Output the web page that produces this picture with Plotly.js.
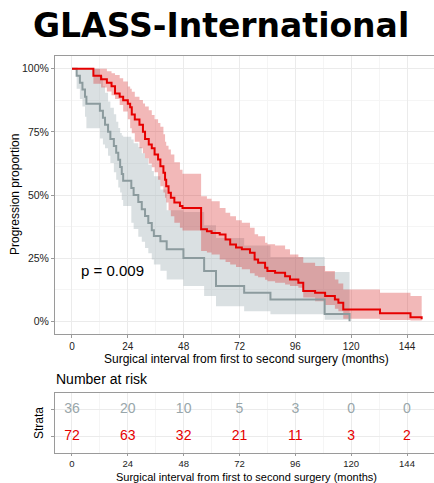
<!DOCTYPE html>
<html>
<head>
<meta charset="utf-8">
<script src="https://cdn.plot.ly/plotly-3.0.1.min.js"></script>
<style>html,body{margin:0;padding:0;background:#fff;}#chart{width:434px;height:483px;}</style>
</head>
<body>
<div id="chart"></div>
<script>
// ---- data ----
const redT  = [0, 9.2, 12.5, 15, 17, 18.5, 20.5, 22, 24, 25, 25.7, 27, 29, 30.5, 31.4, 33, 34.3, 35.5, 37, 38, 39.3, 40, 40.5, 41.5, 42.5, 44, 46.4, 47.5, 55.5, 58, 60, 63.5, 66, 68, 70.5, 73, 76.5, 78.5, 80, 83, 84, 87.3, 91.6, 93.7, 97.3, 99.4, 104.5, 108.8, 113, 114.5, 116.6, 132.4, 145.5, 150.3];
const redS  = [1, 0.972, 0.958, 0.944, 0.93, 0.902, 0.889, 0.875, 0.861, 0.847, 0.819, 0.799, 0.778, 0.75, 0.722, 0.7, 0.685, 0.66, 0.64, 0.614, 0.588, 0.56, 0.535, 0.509, 0.489, 0.47, 0.456, 0.449, 0.364, 0.357, 0.35, 0.344, 0.324, 0.304, 0.292, 0.285, 0.271, 0.245, 0.232, 0.212, 0.199, 0.192, 0.179, 0.166, 0.153, 0.12, 0.113, 0.1, 0.087, 0.074, 0.047, 0.032, 0.016, 0.008];
const redUp = [1, 1, 1, 0.99, 0.982, 0.975, 0.962, 0.949, 0.929, 0.92, 0.909, 0.889, 0.876, 0.862, 0.85, 0.835, 0.817, 0.8, 0.785, 0.77, 0.74, 0.711, 0.695, 0.68, 0.66, 0.63, 0.6, 0.584, 0.495, 0.485, 0.475, 0.449, 0.43, 0.416, 0.4, 0.39, 0.37, 0.345, 0.337, 0.311, 0.305, 0.3, 0.285, 0.265, 0.255, 0.232, 0.219, 0.199, 0.166, 0.15, 0.126, 0.113, 0.1, 0.1];
const redLo = [1, 0.94, 0.925, 0.91, 0.895, 0.88, 0.856, 0.83, 0.8, 0.764, 0.744, 0.711, 0.685, 0.665, 0.645, 0.625, 0.61, 0.59, 0.56, 0.535, 0.51, 0.489, 0.47, 0.44, 0.416, 0.39, 0.37, 0.36, 0.278, 0.272, 0.265, 0.245, 0.235, 0.225, 0.215, 0.206, 0.19, 0.18, 0.175, 0.165, 0.159, 0.153, 0.146, 0.14, 0.133, 0.094, 0.08, 0.065, 0.05, 0.04, 0.01, 0.005, 0.003, 0.003];

const greyT  = [0, 2, 3.4, 4.5, 5.6, 6.2, 12, 13.3, 14.2, 15.5, 16.5, 18, 19, 19.9, 20.7, 21.4, 22, 25.5, 26.5, 28.5, 30, 31.4, 32.8, 34.3, 35.2, 38, 40.7, 47.9, 56.8, 61.9, 74, 85.3, 108.6, 119.3];
const greyS  = [1, 0.972, 0.944, 0.917, 0.889, 0.861, 0.833, 0.806, 0.778, 0.75, 0.722, 0.694, 0.667, 0.639, 0.611, 0.583, 0.556, 0.528, 0.5, 0.472, 0.444, 0.417, 0.389, 0.361, 0.338, 0.317, 0.285, 0.251, 0.199, 0.14, 0.113, 0.087, 0.029, 0];
const greyUp = [1, 1, 1, 1, 1, 1, 0.97, 0.93, 0.905, 0.87, 0.845, 0.82, 0.79, 0.765, 0.745, 0.735, 0.73, 0.72, 0.705, 0.69, 0.665, 0.645, 0.62, 0.595, 0.574, 0.522, 0.44, 0.433, 0.38, 0.33, 0.3, 0.255, 0.195, 0.195];
const greyLo = [1, 0.92, 0.88, 0.85, 0.81, 0.764, 0.724, 0.7, 0.685, 0.655, 0.627, 0.59, 0.56, 0.53, 0.51, 0.48, 0.456, 0.39, 0.365, 0.335, 0.315, 0.29, 0.27, 0.245, 0.225, 0.2, 0.166, 0.14, 0.1, 0.06, 0.04, 0.028, 0.006, 0.006];

const riskTimes = [0, 24, 48, 72, 96, 120, 144];
const riskGrey  = [36, 20, 10, 5, 3, 0, 0];
const riskRed   = [72, 63, 32, 21, 11, 3, 2];
const yTickVals = [0, 0.25, 0.5, 0.75, 1];
const yTickText = ['0%', '25%', '50%', '75%', '100%'];
const pText = 'p = 0.009';

// ---- styles ----
const RED = '#E60000', GREY = '#8C9B9E';
const GREY_TXT = '#98A6AA';
const SANS = 'Liberation Sans, Arial, sans-serif';
const W = 434, H = 483;
const px = v => v / W, py = v => 1 - v / H;

const traces = [
  {x: greyT, y: greyUp, mode: 'lines', line: {width: 0, shape: 'hv'}, hoverinfo: 'skip', showlegend: false},
  {x: greyT, y: greyLo, mode: 'lines', line: {width: 0, shape: 'hv'}, fill: 'tonexty', fillcolor: 'rgba(150,165,172,0.35)', hoverinfo: 'skip', showlegend: false},
  {x: redT, y: redUp, mode: 'lines', line: {width: 0, shape: 'hv'}, hoverinfo: 'skip', showlegend: false},
  {x: redT, y: redLo, mode: 'lines', line: {width: 0, shape: 'hv'}, fill: 'tonexty', fillcolor: 'rgba(215,40,40,0.33)', hoverinfo: 'skip', showlegend: false},
  {x: greyT, y: greyS, mode: 'lines', line: {color: GREY, width: 2, shape: 'hv'}, showlegend: false},
  {x: redT, y: redS, mode: 'lines', line: {color: RED, width: 2, shape: 'hv'}, showlegend: false},
  {x: riskTimes, y: riskTimes.map(() => 2), text: riskGrey.map(String), mode: 'text', textfont: {family: SANS, size: 14, color: GREY_TXT}, xaxis: 'x2', yaxis: 'y2', showlegend: false},
  {x: riskTimes, y: riskTimes.map(() => 1), text: riskRed.map(String), mode: 'text', textfont: {family: SANS, size: 14, color: RED}, xaxis: 'x2', yaxis: 'y2', showlegend: false}
];

const axisCommon = {
  showline: true, linecolor: '#9a9a9a', linewidth: 1, mirror: true,
  ticks: 'outside', ticklen: 3, tickcolor: '#9a9a9a',
  gridcolor: '#EBEBEB', gridwidth: 1, zeroline: false,
  tickfont: {family: SANS, size: 10, color: '#222'}
};
const xRange = [-7.3, 155.6];

const layout = {
  width: W, height: H,
  margin: {l: 0, r: 0, t: 0, b: 0},
  paper_bgcolor: '#fff', plot_bgcolor: '#fff',
  showlegend: false,
  xaxis: Object.assign({}, axisCommon, {
    domain: [px(55), 1], range: xRange, tickvals: riskTimes,
    minor: {dtick: 12, tick0: 0, showgrid: true, gridcolor: '#F5F5F5', ticks: ''},
    anchor: 'y'
  }),
  yaxis: Object.assign({}, axisCommon, {
    domain: [py(334), py(56)], range: [-0.05, 1.05],
    tickvals: yTickVals, ticktext: yTickText,
    tickfont: {family: SANS, size: 10.5, color: '#222'},
    minor: {dtick: 0.125, tick0: 0, showgrid: true, gridcolor: '#F5F5F5', ticks: ''},
    anchor: 'x'
  }),
  xaxis2: Object.assign({}, axisCommon, {
    domain: [px(55), 1], range: xRange, tickvals: riskTimes,
    tickfont: {family: SANS, size: 9.5, color: '#222'}, ticklen: 2,
    minor: {dtick: 12, tick0: 0, showgrid: true, gridcolor: '#F5F5F5', ticks: ''},
    anchor: 'y2'
  }),
  yaxis2: Object.assign({}, axisCommon, {
    domain: [py(453), py(393)], range: [0.4, 2.6],
    tickvals: [1, 2], showticklabels: false,
    anchor: 'x2'
  }),
  annotations: [
    {text: 'GLASS-International', xref: 'paper', yref: 'paper', x: px(221), y: py(26), xanchor: 'center', yanchor: 'middle', showarrow: false,
     font: {family: 'DejaVu Sans', size: 33, weight: 700, color: '#000'}},
    {text: 'Progression proportion', xref: 'paper', yref: 'paper', x: px(15), y: py(195), textangle: -90, xanchor: 'center', yanchor: 'middle', showarrow: false,
     font: {family: SANS, size: 12, color: '#000'}},
    {text: 'Surgical interval from first to second surgery (months)', xref: 'paper', yref: 'paper', x: px(246), y: py(359), xanchor: 'center', yanchor: 'middle', showarrow: false,
     font: {family: SANS, size: 12, color: '#000'}},
    {text: pText, xref: 'x', yref: 'y', x: 3, y: 0.2, xanchor: 'left', yanchor: 'middle', showarrow: false,
     font: {family: SANS, size: 15, color: '#000'}},
    {text: 'Number at risk', xref: 'paper', yref: 'paper', x: px(54), y: py(379), xanchor: 'left', yanchor: 'middle', showarrow: false,
     font: {family: SANS, size: 14, color: '#000'}},
    {text: 'Strata', xref: 'paper', yref: 'paper', x: px(39), y: py(423), textangle: -90, xanchor: 'center', yanchor: 'middle', showarrow: false,
     font: {family: SANS, size: 12, color: '#000'}},
    {text: 'Surgical interval from first to second surgery (months)', xref: 'paper', yref: 'paper', x: px(246), y: py(476.5), xanchor: 'center', yanchor: 'middle', showarrow: false,
     font: {family: SANS, size: 11, color: '#000'}}
  ]
};

Plotly.newPlot('chart', traces, layout, {staticPlot: true, displayModeBar: false});
</script>
</body>
</html>
